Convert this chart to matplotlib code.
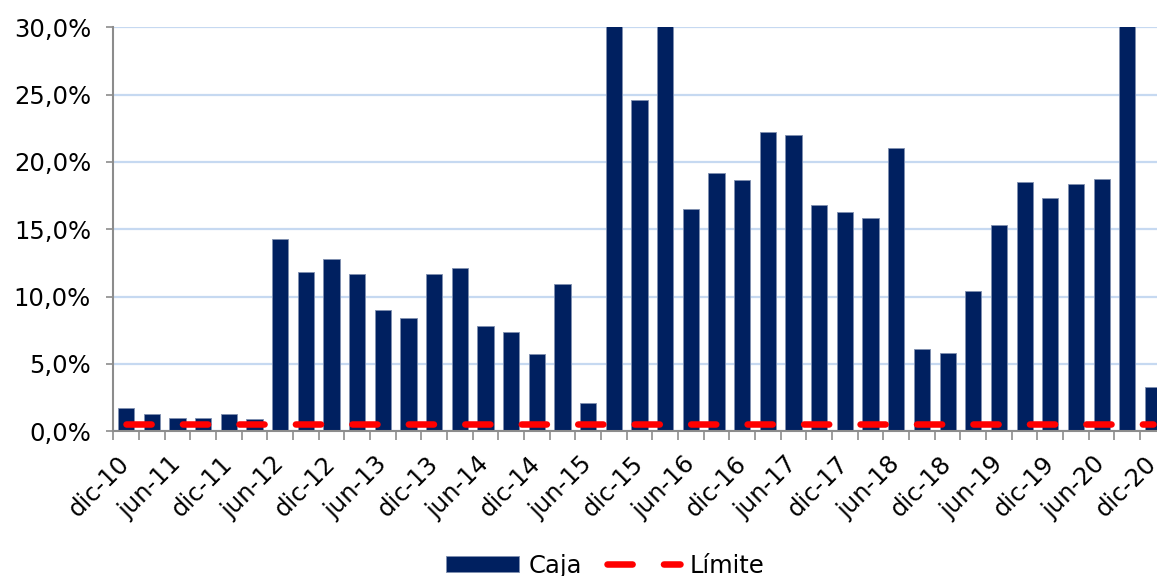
import numpy as np
import matplotlib.pyplot as plt
from matplotlib.ticker import FixedLocator, FuncFormatter

# ---------------------------------------------------------
# Data (quarterly, dic-10 .. dic-20), values in %
# ---------------------------------------------------------
periodos = ["dic-10", "mar-11", "jun-11", "sep-11", "dic-11", "mar-12", "jun-12", "sep-12",
            "dic-12", "mar-13", "jun-13", "sep-13", "dic-13", "mar-14", "jun-14", "sep-14",
            "dic-14", "mar-15", "jun-15", "sep-15", "dic-15", "mar-16", "jun-16", "sep-16",
            "dic-16", "mar-17", "jun-17", "sep-17", "dic-17", "mar-18", "jun-18", "sep-18",
            "dic-18", "mar-19", "jun-19", "sep-19", "dic-19", "mar-20", "jun-20", "sep-20",
            "dic-20"]
# bars above 30% are cut off by the axis in the original, the exact value is not visible
caja = [1.69, 1.24, 0.94, 0.99, 1.24, 0.87, 14.24, 11.85, 12.79, 11.65,
        9.02, 8.38, 11.70, 12.10, 7.78, 7.39, 5.72, 10.96, 2.07, 35.0,
        24.59, 35.0, 16.47, 19.15, 18.63, 22.20, 21.98, 16.77, 16.25, 15.82,
        21.01, 6.09, 5.79, 10.41, 15.30, 18.50, 17.29, 18.35, 18.70, 35.0,
        3.26]
limite = [0.5] * len(periodos)

y_ticks = [0, 5, 10, 15, 20, 25, 30]

navy = "#002060"
red = "#FF0000"
grid_col = "#C6D9F1"
axis_col = "#8C8C8C"

plt.rcParams['font.family'] = ['DejaVu Sans']
fs = 17.5

fig = plt.figure(figsize=(11.57, 5.76), dpi=100)
ax = fig.add_axes([0.0979, 0.2517, 0.9097, 0.7006])

x = np.arange(len(periodos))
bars = ax.bar(x, caja, width=0.63, color=navy, edgecolor="#7F8FB0", linewidth=0.6,
              label="Caja", zorder=2)
line, = ax.plot(x, limite, color=red, linewidth=4.7, dashes=(3.85, 4.8),
                dash_capstyle='round', label="Límite", zorder=3)

ax.set_xlim(-0.5, len(periodos) - 0.5)
ax.set_ylim(0, 30)

# y axis
ax.yaxis.set_major_locator(FixedLocator(y_ticks))
ax.yaxis.set_major_formatter(FuncFormatter(lambda v, p: f"{v:.1f}%".replace(".", ",")))
ax.tick_params(axis='y', direction='out', length=5, width=1.2, color=axis_col,
               labelsize=fs, pad=11)
ax.grid(axis='y', color=grid_col, linewidth=1.6, zorder=0)
ax.set_axisbelow(True)

# x axis: labels every 2 quarters, tick marks at category borders
ax.set_xticks(x[::2])
ax.set_xticklabels(periodos[::2], rotation=45, ha='right', va='center',
                   rotation_mode='anchor')
ax.tick_params(axis='x', which='major', length=0, labelsize=fs, pad=21)
ax.set_xticks(np.arange(len(periodos) + 1) - 0.5, minor=True)
ax.tick_params(axis='x', which='minor', direction='out', length=6.5, width=1.2,
               color=axis_col)

for s in ['top', 'right']:
    ax.spines[s].set_visible(False)
for s in ['left', 'bottom']:
    ax.spines[s].set_color(axis_col)
    ax.spines[s].set_linewidth(1.5)

fig.legend([bars, line], ["Caja", "Límite"], loc='center', bbox_to_anchor=(0.523, 0.018),
           ncol=2, frameon=False, fontsize=fs, handlelength=3.0, handletextpad=0.4,
           columnspacing=1.0, handleheight=0.6)

fig.savefig("out.png", dpi=100)
